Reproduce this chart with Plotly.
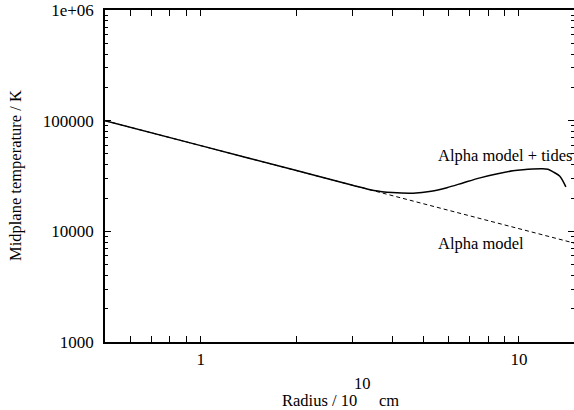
import math
import plotly.graph_objects as go

# ---- data ----
radius_alpha = [0.5, 1, 2, 4, 8, 15]
temp_alpha = [100000, 59500, 35400, 21000, 12500, 7800]

radius_tides = [0.5, 1, 2, 3, 3.5, 4.0, 4.65, 5.3, 5.94, 6.7, 7.55, 8.5,
                9.58, 10.3, 11.07, 11.8, 12.34, 12.8, 13.45, 14.05]
temp_tides = [100000, 59500, 35400, 26100, 23400, 22400, 22100, 23000, 24800,
              27500, 30400, 33000, 35200, 36000, 36500, 36700, 36400, 34500,
              31500, 25200]

x_tick_vals = [1, 10]
x_tick_text = ["1", "10"]
x_minor_vals = [0.6, 0.7, 0.8, 0.9, 2, 3, 4, 5, 6, 7, 8, 9]
y_tick_vals = [1000, 10000, 100000, 1000000]
y_tick_text = ["1000", "10000", "100000", "1e+06"]
y_minor_vals = [m * d for d in (1000, 10000, 100000) for m in range(2, 10)]

label_tides = "Alpha model + tides"
label_alpha = "Alpha model"

# ---- layout geometry (pixels) ----
W, H = 574, 410
ML, MR, MT, MB = 105, 0, 10, 68
PW, PH = W - ML - MR, H - MT - MB
FONT = "Liberation Serif"
FS = 16.5
FS_TICK = 17


def px_x(px):
    return (px - ML) / PW


def px_y(py):
    return (H - MB - py) / PH


fig = go.Figure()
fig.add_trace(go.Scatter(
    x=radius_alpha, y=temp_alpha, mode="lines", yaxis="y2",
    line=dict(color="black", width=1, dash="4px,3px"),
    name=label_alpha, hoverinfo="skip"))
fig.add_trace(go.Scatter(
    x=radius_tides, y=temp_tides, mode="lines",
    line=dict(color="black", width=1.5, shape="spline", smoothing=0.8),
    name=label_tides, hoverinfo="skip"))

axis_common = dict(
    type="log", ticks="inside", tickcolor="black", tickwidth=1, ticklen=6,
    showgrid=False, zeroline=False,
    tickfont=dict(family=FONT, size=FS_TICK, color="black"),
)

fig.update_layout(
    width=W, height=H,
    margin=dict(l=ML, r=MR, t=MT, b=MB, pad=0),
    paper_bgcolor="white", plot_bgcolor="white",
    showlegend=False,
    font=dict(family=FONT, size=FS, color="black"),
    xaxis=dict(
        **axis_common,
        range=[math.log10(0.5), math.log10(14.9)],
        tickmode="array", tickvals=x_tick_vals, ticktext=x_tick_text,
        minor=dict(ticks="inside", ticklen=3, tickcolor="black",
                   tickmode="array", tickvals=x_minor_vals),
        showline=True, linecolor="black", linewidth=1.5, mirror="allticks",
        ticklabelstandoff=1,
    ),
    yaxis=dict(
        **axis_common,
        range=[3, 6],
        tickmode="array", tickvals=y_tick_vals, ticktext=y_tick_text,
        minor=dict(ticks="inside", ticklen=3, tickcolor="black",
                   tickmode="array", tickvals=y_minor_vals),
        showline=True, linecolor="black", linewidth=1.5, mirror=False,
        ticklabelstandoff=6,
    ),
    yaxis2=dict(
        type="log", range=[3, 6], overlaying="y", side="right",
        ticks="inside", tickcolor="black", tickwidth=1, ticklen=6,
        tickmode="array", tickvals=y_tick_vals,
        minor=dict(ticks="inside", ticklen=3, tickcolor="black",
                   tickmode="array", tickvals=y_minor_vals),
        showticklabels=False, showline=False, showgrid=False, zeroline=False,
    ),
    annotations=[
        dict(text="Midplane temperature / K", xref="paper", yref="paper",
             x=px_x(15), y=0.5, xanchor="center", yanchor="middle",
             textangle=-90, showarrow=False),
        dict(text="Radius / 10", xref="paper", yref="paper",
             x=px_x(359), y=px_y(400), xanchor="right", yanchor="middle",
             showarrow=False),
        dict(text="10", xref="paper", yref="paper",
             x=px_x(352), y=px_y(383.5), xanchor="left", yanchor="middle",
             showarrow=False),
        dict(text="cm", xref="paper", yref="paper",
             x=px_x(377), y=px_y(400), xanchor="left", yanchor="middle",
             showarrow=False),
        dict(text=label_tides, xref="paper", yref="paper",
             x=px_x(436), y=px_y(155), xanchor="left", yanchor="middle",
             showarrow=False),
        dict(text=label_alpha, xref="paper", yref="paper",
             x=px_x(436), y=px_y(243), xanchor="left", yanchor="middle",
             showarrow=False),
    ],
)

fig.write_html("out.html")
